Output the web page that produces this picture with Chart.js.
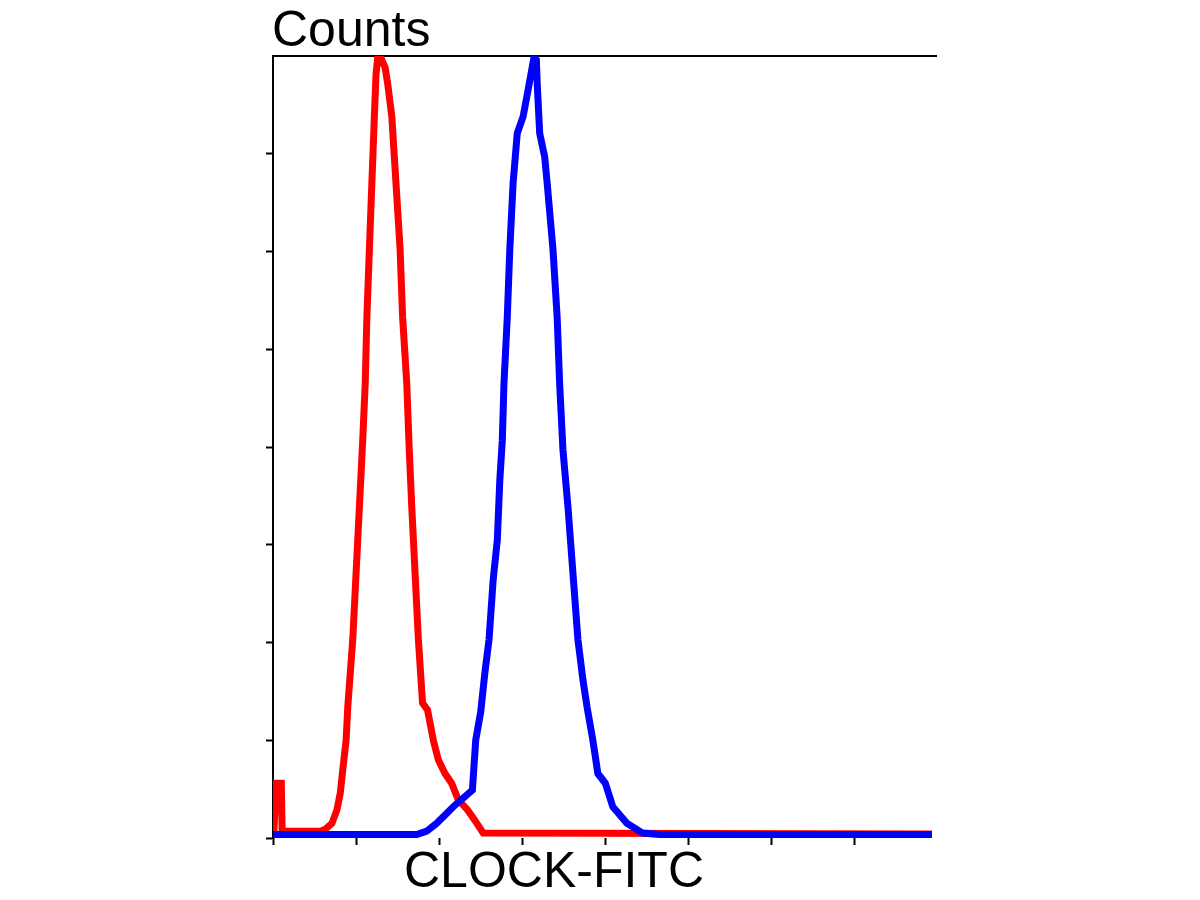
<!DOCTYPE html>
<html>
<head>
<meta charset="utf-8">
<title>CLOCK-FITC histogram</title>
<script src="https://cdn.jsdelivr.net/npm/chart.js@4.4.1/dist/chart.umd.min.js"></script>
<style>
    html, body { margin: 0; padding: 0; background: #ffffff; }
    #histChart { display: block; }
</style>
</head>
<body>
<canvas id="histChart" width="1200" height="900"></canvas>
<script>
// fluorescence channel (one unit = one tick) and counts (one unit = one tick)
const controlX = [0.01, 0.04, 0.10, 0.11, 0.57, 0.63, 0.71, 0.77, 0.81, 0.84, 0.88, 0.90, 0.96, 1.00, 1.04, 1.08,
    1.11, 1.13, 1.16, 1.19, 1.22, 1.24, 1.26, 1.30, 1.35, 1.38, 1.43, 1.48, 1.53, 1.56, 1.61, 1.64, 1.67,
    1.71, 1.75, 1.80, 1.86, 1.93, 1.99, 2.07, 2.15, 2.23, 2.34, 2.43, 2.53, 7.93];
const controlY = [0.06, 0.56, 0.56, 0.07, 0.07, 0.09, 0.15, 0.29, 0.46, 0.70, 1.00, 1.34, 2.03, 2.71, 3.39, 4.07,
    4.65, 5.33, 6.02, 6.70, 7.38, 7.81, 7.98, 7.98, 7.88, 7.72, 7.38, 6.70, 6.02, 5.33, 4.65, 3.97, 3.39,
    2.71, 2.03, 1.38, 1.31, 1.00, 0.80, 0.66, 0.56, 0.39, 0.29, 0.18, 0.05, 0.04];

const clockX = [0.00, 1.73, 1.85, 1.97, 2.17, 2.40, 2.44, 2.50, 2.55, 2.60, 2.65, 2.70, 2.73, 2.76, 2.78, 2.82,
    2.85, 2.89, 2.94, 3.01, 3.07, 3.14, 3.17, 3.18, 3.21, 3.27, 3.30, 3.37, 3.42, 3.45, 3.49, 3.55, 3.61,
    3.67, 3.73, 3.78, 3.85, 3.91, 4.00, 4.09, 4.26, 4.45, 4.66, 7.93];
const clockY = [0.035, 0.035, 0.07, 0.15, 0.32, 0.49, 1.00, 1.29, 1.69, 2.03, 2.64, 3.05, 3.66, 4.07, 4.65, 5.33,
    6.02, 6.70, 7.21, 7.38, 7.65, 7.98, 7.96, 7.72, 7.21, 6.97, 6.70, 6.02, 5.33, 4.65, 3.97, 3.39, 2.71,
    2.03, 1.62, 1.34, 1.00, 0.66, 0.56, 0.32, 0.15, 0.05, 0.035, 0.035];

const xMin = 0;
const xMax = 7.98;
const yMin = 0;
const yMax = 8;

const yTitle = "Counts";
const xTitle = "CLOCK-FITC";

const FONT = "50px 'Liberation Sans', Arial, sans-serif";

function toPoints(xs, ys) {
    return xs.map((x, i) => ({ x: x, y: ys[i] }));
}

// axis captions sit off-centre in the original, so they are written by hand
const captionPlugin = {
    id: "captions",
    afterDraw(chart) {
        const ctx = chart.ctx;
        const area = chart.chartArea;
        ctx.save();
        ctx.fillStyle = "#000000";
        ctx.font = FONT;
        ctx.textBaseline = "alphabetic";
        ctx.textAlign = "left";
        ctx.fillText(yTitle, area.left - 1, 46);
        ctx.fillText(xTitle, 404, 887);
        ctx.restore();
    }
};

const tickMarks = {
    display: true,
    drawOnChartArea: false,
    drawTicks: true,
    tickLength: 7,
    tickWidth: 2,
    tickColor: "#000000"
};

new Chart(document.getElementById("histChart").getContext("2d"), {
    type: "line",
    data: {
        datasets: [
            {
                label: "Control",
                data: toPoints(controlX, controlY),
                borderColor: "#ff0000",
                borderWidth: 7,
                pointRadius: 0,
                tension: 0,
                fill: false,
                order: 2
            },
            {
                label: "CLOCK",
                data: toPoints(clockX, clockY),
                borderColor: "#0000ff",
                borderWidth: 7,
                pointRadius: 0,
                tension: 0,
                fill: false,
                order: 1
            }
        ]
    },
    options: {
        responsive: false,
        animation: false,
        events: [],
        layout: {
            autoPadding: false,
            padding: { left: 266, right: 264, top: 48, bottom: 55 }
        },
        plugins: {
            legend: { display: false },
            tooltip: { enabled: false }
        },
        scales: {
            x: {
                type: "linear",
                position: "bottom",
                min: xMin,
                max: xMax,
                ticks: { display: false, stepSize: 1, includeBounds: false },
                grid: tickMarks,
                border: { display: false }
            },
            xTop: {
                type: "linear",
                position: "top",
                display: true,
                min: xMin,
                max: xMax,
                ticks: { display: false },
                grid: { display: false },
                border: { display: true, color: "#000000", width: 2 }
            },
            y: {
                type: "linear",
                min: yMin,
                max: yMax,
                ticks: { display: false, stepSize: 1 },
                afterBuildTicks: (scale) => {
                    scale.ticks = scale.ticks.filter((t) => t.value < yMax);
                },
                grid: tickMarks,
                border: { display: true, color: "#000000", width: 2 }
            }
        }
    },
    plugins: [captionPlugin]
});
</script>
</body>
</html>
